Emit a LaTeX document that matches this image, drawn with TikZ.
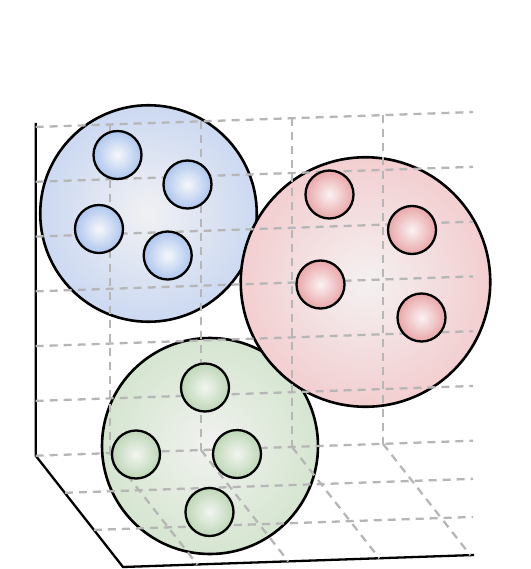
\documentclass[tikz,border=0pt]{standalone}
\usetikzlibrary{shadings}
\definecolor{gridgray}{RGB}{182,182,182}
\definecolor{bbOut}{RGB}{204,217,242}
\definecolor{bbIn}{RGB}{241,241,243}
\definecolor{brOut}{RGB}{243,206,208}
\definecolor{brIn}{RGB}{244,241,241}
\definecolor{bgOut}{RGB}{213,229,208}
\definecolor{bgIn}{RGB}{241,242,239}
\definecolor{sbOut}{RGB}{174,198,238}
\definecolor{sbIn}{RGB}{246,247,251}
\definecolor{srOut}{RGB}{233,166,169}
\definecolor{srIn}{RGB}{251,242,242}
\definecolor{sgOut}{RGB}{190,215,183}
\definecolor{sgIn}{RGB}{242,245,240}
\tikzset{
  gridline/.style={draw=gridgray, line width=2.3pt, dash pattern=on 8pt off 6pt},
  axisline/.style={draw=black, line width=2.3pt},
  bigball/.style={circle, draw=black, line width=2.6pt, inner sep=0pt},
  smallball/.style={circle, draw=black, line width=2.3pt, inner sep=0pt, minimum size=48pt},
  blueball/.style={bigball, inner color=bbIn, outer color=bbOut},
  redball/.style={bigball, inner color=brIn, outer color=brOut},
  greenball/.style={bigball, inner color=bgIn, outer color=bgOut},
  sblue/.style={smallball, inner color=sbIn, outer color=sbOut},
  sred/.style={smallball, inner color=srIn, outer color=srOut},
  sgreen/.style={smallball, inner color=sgIn, outer color=sgOut},
}
\begin{document}
\begin{tikzpicture}[x=1pt,y=-1pt]
\useasboundingbox (0,0) rectangle (530,569);
% axes
\coordinate (ax0) at (35.7,123);
\coordinate (ax1) at (35.7,455.7);
\coordinate (ax2) at (123,567);
\coordinate (ax3) at (474,555);
\draw[axisline] (ax0) -- (ax1) -- (ax2) -- (ax3);
% big clusters
\node[blueball, minimum size=216.5pt] (B) at (148.5,213.5) {};
\node[greenball, minimum size=216pt] (G) at (210,446) {};
\node[redball, minimum size=249.5pt] (R) at (365.5,282) {};
% wall horizontals
\foreach \ya/\yb in {127/112.05, 181.78/166.83, 236.57/221.62, 291.35/276.4, 346.13/331.18, 400.92/385.97, 455.7/440.75}
  \draw[gridline] (35.7,\ya) -- (473,\yb);
% wall verticals
\foreach \x/\ya/\yb in {110/124.46/453.16, 201/121.35/450.05, 292/118.23/446.93, 383/115.12/443.82}
  \draw[gridline] (\x,\ya) -- (\x,\yb);
% floor lines
\draw[gridline] (64.8,492.8) -- (473,478.84);
\draw[gridline] (93.9,529.9) -- (473,516.93);
% floor diagonals
\foreach \x/\ya/\xb/\yb in {110/453.16/197.3/564.46, 201/450.05/288.3/561.35, 292/446.93/379.3/558.23, 383/443.82/470.3/555.12}
  \draw[gridline] (\x,\ya) -- (\xb,\yb);
% small balls
\node[sblue] (b1) at (117.5,155) {};
\node[sblue] (b2) at (187.5,184.5) {};
\node[sblue] (b3) at (99,229) {};
\node[sblue] (b4) at (167.7,255.5) {};
\node[sred] (r1) at (329.5,194.5) {};
\node[sred] (r2) at (412,230) {};
\node[sred] (r3) at (320.5,284.5) {};
\node[sred] (r4) at (421.5,317.5) {};
\node[sgreen] (g1) at (205,387.5) {};
\node[sgreen] (g2) at (136,454.5) {};
\node[sgreen] (g3) at (237,454) {};
\node[sgreen] (g4) at (209.5,512) {};
\end{tikzpicture}
\end{document}
